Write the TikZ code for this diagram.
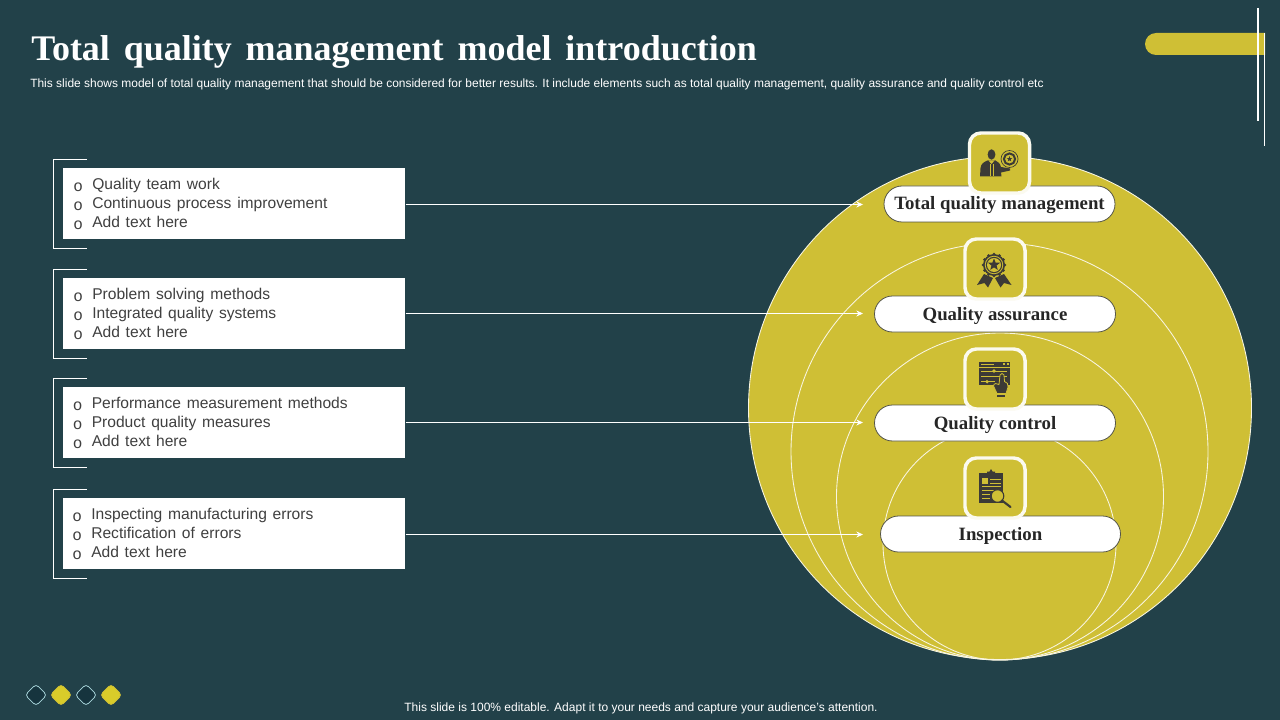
\documentclass[tikz,border=0pt]{standalone}
\usepackage{fontspec}
\setmainfont{Liberation Sans}
\newfontfamily\serifbold[Ligatures=TeX]{Liberation Serif}
\newfontfamily\bulletfont{Liberation Mono}
\usetikzlibrary{arrows.meta,calc,shapes.geometric}
\definecolor{bgdark}{RGB}{34,65,73}
\definecolor{gold}{RGB}{207,191,53}
\definecolor{inkdark}{RGB}{60,58,54}
\definecolor{listgrey}{RGB}{64,64,64}
\definecolor{pilltext}{RGB}{38,38,38}
\definecolor{pilledge}{RGB}{85,85,70}
\definecolor{diamonddark}{RGB}{22,52,62}
\definecolor{diamondedge}{RGB}{170,215,220}
\newcommand{\listline}[1]{\makebox[14.25pt][l]{\raisebox{-1.4pt}{\bulletfont\fontsize{12pt}{14.25pt}\selectfont o}}#1}
\newcommand{\gapsp}[1]{\spaceskip #1\relax}
\newcommand{\starat}[4]{\fill[#1] #2 +(90:#3) -- +(126:#4) -- +(162:#3) -- +(198:#4) -- +(234:#3) -- +(270:#4) -- +(306:#3) -- +(342:#4) -- +(18:#3) -- +(54:#4) -- cycle;}
\tikzset{
  listbox/.style={fill=white,draw=none,minimum width=256.5pt,minimum height=53.25pt,inner sep=0pt,anchor=north west},
  listtext/.style={anchor=west,align=left,inner sep=0pt,text=listgrey,font=\fontsize{11.7pt}{14.25pt}\selectfont\gapsp{4.3pt}},
  bracketline/.style={draw=white,line width=0.8pt},
  linkline/.style={draw=white,line width=0.8pt,-{Stealth[length=5pt,width=4.5pt]}},
  ringline/.style={draw=white!85!gold,line width=0.65pt},
  pill/.style={fill=white,draw=pilledge,line width=0.6pt,rounded corners=13.5pt,minimum height=27pt,inner sep=0pt,text=pilltext,text height=9.5pt,text depth=0.5pt,font=\serifbold\bfseries\fontsize{14.1pt}{16pt}\selectfont\gapsp{3.6pt}},
  iconbox/.style={fill=gold,draw=white!92!gold,line width=2.6pt,rounded corners=8.5pt,minimum width=45pt,minimum height=45pt,inner sep=0pt},
  icon/.style={fill=inkdark,draw=none},
  iconcut/.style={draw=gold,line width=0.5pt},
  darkdiamond/.style={diamond,aspect=1,fill=diamonddark,draw=diamondedge,line width=0.6pt,rounded corners=2.6pt,minimum size=16.5pt,inner sep=0pt},
  golddiamond/.style={diamond,aspect=1,fill=gold!80!yellow,draw=gold,line width=0.6pt,rounded corners=2.6pt,minimum size=16.5pt,inner sep=0pt},
}
\begin{document}
\begin{tikzpicture}[x=0.75pt,y=-0.75pt]
\useasboundingbox (0,0) rectangle (1280,720);
\fill[bgdark] (0,0) rectangle (1280,720);
% title
\node[anchor=base west,inner sep=0pt,text=white,font=\serifbold\bfseries\fontsize{27pt}{30pt}\selectfont\gapsp{10.4pt}] (title) at (31,60.5) {Total quality management model introduction};
\node[anchor=base west,inner sep=0pt,text=white,font=\fontsize{8.98pt}{11pt}\selectfont] (subtitle) at (30,87.5) {This slide shows model of total quality management that should be considered for better results. It include elements such as total quality management, quality assurance and quality control etc};
% top right ornament
\fill[gold] (1265,33) -- (1156,33) arc[start angle=90,end angle=270,radius=11*0.75pt] -- (1265,55) -- cycle;
\draw[white,line width=0.8pt] (1258,8) -- (1258,121);
\draw[white,line width=0.8pt] (1264.7,33) -- (1264.7,146);
% rings
\fill[gold] (1000,408) circle[radius=251.5*0.75pt];
\draw[ringline] (1000,408) circle[radius=251.5*0.75pt];
\draw[ringline] (999.5,451.5) circle[radius=208.5*0.75pt];
\draw[ringline] (1000,496.5) circle[radius=163.5*0.75pt];
\draw[ringline] (999.5,543.5) circle[radius=116.5*0.75pt];
% list boxes
\node[listbox] (box1) at (63,168) {};
\node[listbox] (box2) at (63,278) {};
\node[listbox] (box3) at (63,387) {};
\node[listbox] (box4) at (63,498) {};
\node[listtext] (txt1) at (73,204) {\listline{Quality team work}\\\listline{Continuous process improvement}\\\listline{Add text here}};
\node[listtext] (txt2) at (73,314) {\listline{Problem solving methods}\\\listline{Integrated quality systems}\\\listline{Add text here}};
\node[listtext] (txt3) at (72.5,423) {\listline{Performance measurement methods}\\\listline{Product quality measures}\\\listline{Add text here}};
\node[listtext] (txt4) at (72,534) {\listline{Inspecting manufacturing errors}\\\listline{Rectification of errors}\\\listline{Add text here}};
% brackets
\foreach \t in {159.5,269.5,378.5,489.5}{
  \draw[bracketline] (87,\t) -- (53.5,\t) -- (53.5,\t+89) -- (87,\t+89);
}
% pills
\node[pill,minimum width=173.25pt] (pill1) at (999.5,204) {Total quality management};
\node[pill,minimum width=180.75pt] (pill2) at (995,314) {Quality assurance};
\node[pill,minimum width=180.75pt] (pill3) at (995,423) {Quality control};
\node[pill,minimum width=180pt] (pill4) at (1000.5,534) {Inspection};
% icon boxes
\node[iconbox] (icon1) at (999.5,163) {};
\node[iconbox] (icon2) at (995,269) {};
\node[iconbox] (icon3) at (995,379) {};
\node[iconbox] (icon4) at (995,488) {};
% connectors
\coordinate (end1) at (863,204.5);
\coordinate (end2) at (863,313.5);
\coordinate (end3) at (863,422.5);
\coordinate (end4) at (863,534.5);
\draw[linkline] (box1.east |- end1) -- (end1);
\draw[linkline] (box2.east |- end2) -- (end2);
\draw[linkline] (box3.east |- end3) -- (end3);
\draw[linkline] (box4.east |- end4) -- (end4);
% icon 1: person and target
\fill[icon] (991.5,154.5) ellipse[x radius=3.9*0.75pt,y radius=5.2*0.75pt];
\fill[icon] (980,176.5) -- (980.5,168) .. controls (981,163.5) and (984,162) .. (987.5,160.5) -- (995.5,160.5) .. controls (998,162) and (1000,163) .. (1001,167) -- (1010,168.5) -- (1010,170.5) -- (1001,172.5) -- (1001.5,176.5) -- cycle;
\fill[gold] (988.5,160.5) -- (991.5,164) -- (994.5,160.5) -- cycle;
\draw[gold,line width=0.4pt] (990,164) -- (990,176) (993,164) -- (993,176);
\draw[inkdark,line width=0.5pt] (1009.5,159) circle[radius=8.5*0.75pt];
\draw[inkdark,line width=1.5pt] (1009.5,159) circle[radius=5.6*0.75pt];
\starat{inkdark}{(1009.5,159)}{2.2pt}{0.9pt}
% icon 2: rosette
\fill[icon] (984,274) -- (977,285) -- (984.5,283) -- (988,287.5) -- (993,278) -- cycle;
\fill[icon] (1004,274) -- (1011.5,285) -- (1004,283) -- (1000.5,287.5) -- (995,278) -- cycle;
\fill[icon] (994,265) circle[radius=11*0.75pt];
\foreach \a in {0,30,...,330}{\fill[icon] (994,265) ++(\a:8.1pt) circle[radius=1.2pt];}
\fill[gold] (994,265) circle[radius=9.2*0.75pt];
\fill[icon] (994,265) circle[radius=8.2*0.75pt];
\fill[gold] (994,265) circle[radius=7*0.75pt];
\starat{inkdark}{(994,264.7)}{4.8pt}{2pt}
% icon 3: control panel and hand
\fill[icon] (979,362) rectangle (1009.5,385);
\draw[iconcut] (981,364) -- (994,364);
\fill[gold] (1003,363) rectangle (1005,365);
\fill[gold] (1006.5,363) rectangle (1008.5,365);
\draw[iconcut] (979,367) -- (1009.5,367);
\draw[iconcut] (981,371) -- (1007,371);
\draw[iconcut] (981,376.5) -- (1007,376.5);
\draw[iconcut] (981,381.7) -- (995,381.7);
\fill[gold] (994,371) circle[radius=1.8*0.75pt];
\fill[gold] (1001,376.5) circle[radius=1.8*0.75pt];
\fill[gold] (987,381.7) circle[radius=1.8*0.75pt];
\filldraw[fill=inkdark,draw=gold,line width=0.6pt] (997,393.5) -- (993.5,386) .. controls (993.5,383) and (997,383) .. (999,384.5) -- (1000,375) .. controls (1001,373) and (1003,373) .. (1004,375) -- (1004.5,381.5) .. controls (1007,382) and (1008.5,384) .. (1008,387) -- (1006,393.5) -- cycle;
\fill[icon] (996.5,394.5) rectangle (1004.5,397);
% icon 4: clipboard and magnifier
\fill[icon] (979,473) rectangle (1003,503);
\fill[icon] (987,473.5) -- (987,471.5) -- (989.5,471.5) -- (991,469) -- (992.5,471.5) -- (995,471.5) -- (995,473.5) -- cycle;
\fill[gold] (982,478) rectangle (988,484);
\foreach \yy in {479,483}{\draw[iconcut] (990,\yy) -- (1000.5,\yy);}
\foreach \yy in {486.5,490}{\draw[iconcut] (982,\yy) -- (1000.5,\yy);}
\foreach \yy in {494,498}{\draw[iconcut] (982,\yy) -- (990,\yy);}
\draw[inkdark,fill=gold,line width=0.8pt] (997.5,496) circle[radius=6.3*0.75pt];
\draw[inkdark,line width=1.6pt,line cap=round] (1002,500.5) -- (1010.5,507);
% diamonds
\node[darkdiamond] (d1) at (36,695) {};
\node[golddiamond] (d2) at (61,695) {};
\node[darkdiamond] (d3) at (86,695) {};
\node[golddiamond] (d4) at (111,695) {};
% footer
\node[anchor=base,inner sep=0pt,text=white,font=\fontsize{9pt}{11pt}\selectfont] (footer) at (641,711) {This slide is 100\% editable. Adapt it to your needs and capture your audience's attention.};
\end{tikzpicture}
\end{document}
